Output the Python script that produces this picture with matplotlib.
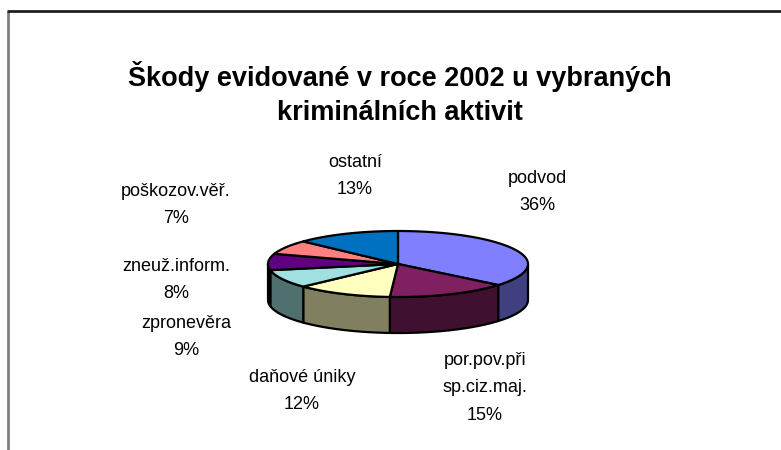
import matplotlib
matplotlib.use("Agg")
import matplotlib.pyplot as plt
import numpy as np
from matplotlib.colors import to_rgb
from matplotlib.patches import Polygon

plt.rcParams["font.family"] = ["Liberation Sans", "DejaVu Sans"]

# slices, clockwise from 12 o'clock
categories = [
    "podvod",
    "por.pov.při\nsp.ciz.maj.",
    "daňové úniky",
    "zpronevěra",
    "zneuž.inform.",
    "poškozov.věř.",
    "ostatní",
]
shares = [36, 15, 12, 9, 8, 7, 13]
top_colors = ["#8080FF", "#802060", "#FFFFC0", "#A0E0E0", "#600080", "#FF8080", "#0070C0"]

# label anchor (centre) for each slice's text block
label_pos = [(537, 192), (485, 388), (302, 391), (186, 337), (176, 280), (176, 205), (355, 176)]

title = "Škody evidované v roce 2002 u vybraných\nkriminálních aktivit"

cx, cy = 398, 264      # centre of the top face
rx, ry = 130, 33       # ellipse half-axes
depth = 36             # thickness of the pie


def shade(color, k=0.5):
    r, g, b = to_rgb(color)
    return (r * k, g * k, b * k)


def arc(a0, a1, dy=0.0, n=80):
    t = np.radians(np.linspace(a0, a1, n))
    return np.column_stack([cx + rx * np.cos(t), cy - ry * np.sin(t) + dy])


fig = plt.figure(figsize=(7.81, 4.5), dpi=100)
ax = fig.add_axes([0, 0, 1, 1])
ax.set_xlim(0, 781)
ax.set_ylim(450, 0)
ax.axis("off")

# chart area frame (only left and top edges are in view)
ax.plot([7.5, 7.5], [10.5, 450], color="#808080", lw=2, solid_capstyle="butt")
ax.plot([7, 781], [10.5, 10.5], color="#202020", lw=2, solid_capstyle="butt")

total = float(sum(shares))
bounds = 90 - 360 * np.concatenate([[0], np.cumsum(shares)]) / total

# side walls: only the front half (-180..0 deg) is visible
for i, color in enumerate(top_colors):
    lo, hi = sorted([bounds[i], bounds[i + 1]])
    for shift in (0, -360, 360):
        l2, h2 = max(lo + shift, -180), min(hi + shift, 0)
        if h2 > l2:
            top_arc = arc(l2, h2)
            bot_arc = arc(h2, l2, dy=depth)
            ax.add_patch(Polygon(np.vstack([top_arc, bot_arc]), closed=True,
                                 facecolor=shade(color), edgecolor="black",
                                 lw=1.6, joinstyle="round"))

# top faces
for i, color in enumerate(top_colors):
    pts = np.vstack([[cx, cy], arc(bounds[i], bounds[i + 1])])
    ax.add_patch(Polygon(pts, closed=True, facecolor=color,
                         edgecolor="black", lw=1.6, joinstyle="round"))

for name, val, (x, y) in zip(categories, shares, label_pos):
    ax.text(x, y, f"{name}\n{val}%", ha="center", va="center",
            fontsize=13, linespacing=1.8, color="black")

ax.text(400, 94, title, ha="center", va="center", fontsize=19.5,
        fontweight="bold", linespacing=1.4)

fig.savefig("out.png", dpi=100)
